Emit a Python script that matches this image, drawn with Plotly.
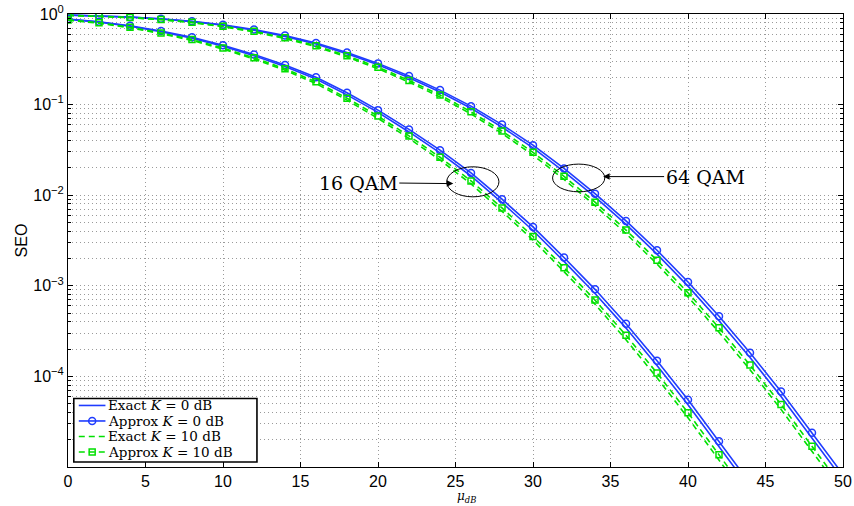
import plotly.graph_objects as go

# ---------------- data ----------------
mu_db_16qam = [0, 2, 4, 6, 8, 10, 12, 14, 16, 18, 20, 22, 24, 26, 28, 30, 32, 34, 36, 38, 40, 42, 44]
mu_db_64qam = [0, 2, 4, 6, 8, 10, 12, 14, 16, 18, 20, 22, 24, 26, 28, 30, 32, 34, 36, 38, 40, 42, 44, 46, 48, 50]

# SEO values stored as log10(SEO)
seo16_exact_k0_log10 = [-0.059, -0.090, -0.136, -0.196, -0.267, -0.357, -0.461, -0.580, -0.718, -0.893, -1.086, -1.302,
                        -1.533, -1.788, -2.081, -2.390, -2.731, -3.085, -3.467, -3.879, -4.313, -4.773, -5.238]
seo16_approx_k0_log10 = [-0.055, -0.085, -0.129, -0.188, -0.257, -0.345, -0.447, -0.564, -0.699, -0.870, -1.061, -1.274,
                         -1.503, -1.754, -2.044, -2.350, -2.688, -3.039, -3.418, -3.826, -4.257, -4.715, -5.180]
seo16_exact_k10_log10 = [-0.069, -0.102, -0.152, -0.217, -0.292, -0.388, -0.497, -0.621, -0.768, -0.951, -1.152, -1.373,
                         -1.611, -1.876, -2.178, -2.495, -2.843, -3.203, -3.595, -4.015, -4.457, -4.923, -5.390]
seo16_approx_k10_log10 = [-0.065, -0.097, -0.146, -0.209, -0.282, -0.376, -0.483, -0.605, -0.749, -0.929, -1.127, -1.346,
                          -1.581, -1.842, -2.141, -2.455, -2.800, -3.158, -3.546, -3.963, -4.401, -4.865, -5.331]

seo64_exact_k0_log10 = [-0.012, -0.021, -0.035, -0.056, -0.084, -0.125, -0.179, -0.247, -0.332, -0.439, -0.561, -0.704,
                        -0.861, -1.041, -1.248, -1.478, -1.739, -2.019, -2.323, -2.650, -3.004, -3.386, -3.792, -4.221,
                        -4.679, -5.141]
seo64_approx_k0_log10 = [-0.011, -0.020, -0.033, -0.053, -0.080, -0.119, -0.171, -0.238, -0.320, -0.425, -0.545, -0.685,
                         -0.840, -1.017, -1.221, -1.448, -1.705, -1.983, -2.284, -2.608, -2.958, -3.337, -3.740, -4.166,
                         -4.622, -5.083]
seo64_exact_k10_log10 = [-0.015, -0.025, -0.040, -0.064, -0.095, -0.140, -0.198, -0.271, -0.362, -0.475, -0.604, -0.752,
                         -0.915, -1.103, -1.318, -1.557, -1.826, -2.114, -2.424, -2.760, -3.122, -3.513, -3.926, -4.364,
                         -4.828, -5.290]
seo64_approx_k10_log10 = [-0.014, -0.024, -0.038, -0.061, -0.091, -0.134, -0.191, -0.262, -0.351, -0.461, -0.587, -0.733,
                          -0.894, -1.079, -1.291, -1.527, -1.792, -2.077, -2.385, -2.718, -3.076, -3.464, -3.875, -4.309,
                          -4.771, -5.233]

legend_labels = ["Exact <i>K</i> = 0 dB", "Approx <i>K</i> = 0 dB",
                 "Exact <i>K</i> = 10 dB", "Approx <i>K</i> = 10 dB"]
x_ticks = [0, 5, 10, 15, 20, 25, 30, 35, 40, 45, 50]
y_major_ticks = [1e-4, 1e-3, 1e-2, 1e-1, 1]
y_major_text = ["10<sup>\u22124</sup>", "10<sup>\u22123</sup>", "10<sup>\u22122</sup>", "10<sup>\u22121</sup>", "10<sup>0</sup>"]

# ---------------- styling ----------------
BLUE = "#1f3cff"
GREEN = "#00e000"
SERIF = "DejaVu Serif"
SANS = "Liberation Sans, Arial, sans-serif"

W, H = 854, 506
ML, MR, MT, MB = 67.5, 10.5, 14, 39.3
PW, PH = W - ML - MR, H - MT - MB


def xp(px):
    return (px - ML) / PW


def yp(py):
    return (H - MB - py) / PH


def tolin(arr):
    return [10 ** v for v in arr]


fig = go.Figure()

line_styles = [
    dict(color=BLUE, width=1.6),
    dict(color=BLUE, width=1.6),
    dict(color=GREEN, width=1.6, dash="6px,4px"),
    dict(color=GREEN, width=1.6, dash="6px,4px"),
]
marker_styles = [
    None,
    dict(symbol="circle-open", size=7, color=BLUE, line=dict(width=1.5, color=BLUE)),
    None,
    dict(symbol="square-open", size=6, color=GREEN, line=dict(width=1.5, color=GREEN)),
]

series16 = [seo16_exact_k0_log10, seo16_approx_k0_log10, seo16_exact_k10_log10, seo16_approx_k10_log10]
series64 = [seo64_exact_k0_log10, seo64_approx_k0_log10, seo64_exact_k10_log10, seo64_approx_k10_log10]

for xs, group, tag in ((mu_db_64qam, series64, "64 QAM"), (mu_db_16qam, series16, "16 QAM")):
    for i in range(4):
        kw = dict(mode="lines+markers", marker=marker_styles[i]) if marker_styles[i] else dict(mode="lines")
        fig.add_trace(go.Scatter(x=xs, y=tolin(group[i]), name=legend_labels[i] + " (" + tag + ")",
                                 line=line_styles[i], showlegend=False, **kw))

# minor y ticks (2..9 in each decade)
minor_vals = [m * 10 ** e for e in range(-5, 0) for m in range(2, 10)]

grid_col = "#9a9a9a"

fig.update_xaxes(
    range=[0, 50], tickvals=x_ticks, ticks="inside", ticklen=5, tickcolor="black",
    showline=True, linecolor="black", linewidth=1, mirror="allticks",
    showgrid=True, gridcolor=grid_col, griddash="1px,3px", gridwidth=1,
    zeroline=False,
    tickfont=dict(family=SANS, size=16, color="black"),
)
fig.update_yaxes(
    type="log", range=[-5.0, 0], tickvals=y_major_ticks, ticktext=y_major_text,
    ticks="inside", ticklen=5, tickcolor="black",
    showline=True, linecolor="black", linewidth=1, mirror="allticks",
    showgrid=True, gridcolor=grid_col, griddash="1px,3px", gridwidth=1,
    zeroline=False,
    tickfont=dict(family=SANS, size=16, color="black"),
    minor=dict(tickvals=minor_vals, ticks="inside", ticklen=3, tickcolor="black",
               showgrid=True, gridcolor=grid_col, griddash="1px,3px", gridwidth=1),
    title=dict(text="SEO", font=dict(family=SANS, size=16, color="black"), standoff=1),
)

# ---------------- ellipses and labelled arrows (16 QAM / 64 QAM) ----------------
shapes = [
    dict(type="circle", xref="paper", yref="paper", x0=xp(446.7), x1=xp(499), y0=yp(196.7), y1=yp(166.7),
         line=dict(color="black", width=1)),
    dict(type="circle", xref="paper", yref="paper", x0=xp(552.7), x1=xp(605), y0=yp(191.7), y1=yp(164),
         line=dict(color="black", width=1)),
]
annotations = [
    dict(x=xp(453.3), y=yp(183.5), xref="paper", yref="paper", ax=-95, ay=-1, text="16 QAM", showarrow=True,
         arrowhead=2, arrowsize=1.3, arrowwidth=1, arrowcolor="black", standoff=0, startstandoff=0,
         font=dict(family=SERIF, size=19, color="black")),
    dict(x=xp(603.3), y=yp(176.5), xref="paper", yref="paper", ax=102, ay=0, text="64 QAM", showarrow=True,
         arrowhead=2, arrowsize=1.3, arrowwidth=1, arrowcolor="black", standoff=0, startstandoff=0,
         font=dict(family=SERIF, size=19, color="black")),
    # x-axis label
    dict(x=xp(467), y=yp(497), xref="paper", yref="paper", showarrow=False,
         text="<i>\u03bc</i><sub><i>dB</i></sub>", xanchor="center", yanchor="middle", borderpad=0,
         font=dict(family=SERIF, size=12, color="black")),
]

# ---------------- legend box (drawn to match the reference's compact layout) ----------------
leg_rows = [405.2, 420.7, 436.2, 451.7]
shapes.append(dict(type="rect", xref="paper", yref="paper", x0=xp(73.3), x1=xp(256.7), y0=yp(461.7), y1=yp(398.3),
                   line=dict(color="black", width=1.6), fillcolor="white", layer="above"))
for i, ry in enumerate(leg_rows):
    ls = line_styles[i]
    shapes.append(dict(type="line", xref="paper", yref="paper", x0=xp(78.3), x1=xp(105), y0=yp(ry), y1=yp(ry),
                       line=dict(color=ls["color"], width=ls["width"], dash=ls.get("dash", "solid"))))
    if i == 1:
        shapes.append(dict(type="circle", xref="paper", yref="paper", x0=xp(88.2), x1=xp(95.2),
                           y0=yp(ry + 3.5), y1=yp(ry - 3.5), line=dict(color=BLUE, width=1.5)))
    if i == 3:
        shapes.append(dict(type="rect", xref="paper", yref="paper", x0=xp(88.7), x1=xp(94.7),
                           y0=yp(ry + 3), y1=yp(ry - 3), line=dict(color=GREEN, width=1.5)))
    annotations.append(dict(x=xp(106.5), y=yp(ry), xref="paper", yref="paper", text=legend_labels[i],
                            showarrow=False, xanchor="left", yanchor="middle", borderpad=0,
                            font=dict(family=SERIF, size=13.5, color="black")))

fig.update_layout(
    width=W, height=H,
    margin=dict(l=ML, r=MR, t=MT, b=MB, autoexpand=False),
    paper_bgcolor="white", plot_bgcolor="white",
    shapes=shapes, annotations=annotations,
    showlegend=False,
)

fig.write_html("out.html", config={"displayModeBar": False},
               post_script="document.body.style.margin='0';document.body.style.overflow='hidden';")
